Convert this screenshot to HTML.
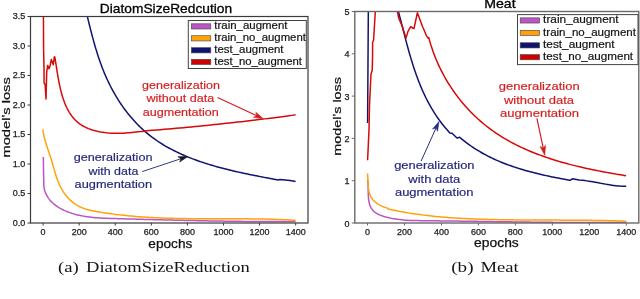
<!DOCTYPE html><html><head><meta charset="utf-8"><style>html,body{margin:0;padding:0;background:#fff;width:640px;height:299px;overflow:hidden}svg{display:block;will-change:transform}</style></head><body>
<svg width="640" height="299" viewBox="0 0 640 299">
<defs><clipPath id="cl"><rect x="30.5" y="16.5" width="277.5" height="206.5"/></clipPath><clipPath id="cr"><rect x="354.8" y="11.5" width="283.6" height="211.5"/></clipPath></defs>
<g clip-path="url(#cl)" fill="none" stroke-width="1.5" stroke-linejoin="round">
<path d="M43.35,157.10 L43.50,170.00 L43.80,183.00 L43.76,182.78 L43.79,185.03 L44.00,187.19 L44.38,189.26 L44.93,191.25 L45.63,193.15 L46.47,194.97 L47.45,196.70 L48.55,198.35 L49.77,199.91 L51.09,201.39 L52.50,202.78 L54.00,204.09 L55.57,205.32 L57.21,206.48 L58.91,207.55 L60.66,208.56 L62.45,209.50 L64.27,210.37 L66.12,211.18 L67.98,211.93 L69.87,212.63 L71.76,213.27 L73.68,213.86 L75.60,214.41 L77.54,214.90 L79.49,215.35 L81.46,215.76 L83.43,216.13 L85.42,216.46 L87.41,216.76 L89.41,217.03 L91.42,217.26 L93.44,217.47 L95.46,217.65 L97.49,217.81 L99.52,217.95 L101.56,218.07 L103.60,218.17 L105.65,218.26 L107.69,218.34 L109.74,218.41 L111.78,218.48 L113.83,218.54 L115.87,218.60 L117.91,218.65 L119.95,218.71 L121.99,218.77 L124.03,218.83 L126.07,218.89 L128.10,218.94 L130.13,219.00 L132.16,219.06 L134.19,219.11 L136.22,219.17 L138.24,219.23 L140.27,219.28 L142.29,219.34 L144.32,219.39 L146.34,219.45 L148.36,219.50 L150.37,219.55 L152.39,219.61 L154.41,219.66 L156.42,219.71 L158.44,219.76 L160.45,219.81 L162.47,219.87 L164.48,219.92 L166.49,219.97 L168.50,220.02 L170.51,220.06 L172.52,220.11 L174.53,220.16 L176.53,220.21 L178.54,220.25 L180.55,220.30 L182.56,220.35 L184.56,220.39 L186.57,220.44 L188.57,220.48 L190.58,220.52 L192.58,220.56 L194.59,220.61 L196.59,220.65 L198.60,220.69 L200.60,220.73 L202.61,220.77 L204.61,220.80 L206.62,220.84 L208.62,220.88 L210.63,220.92 L212.63,220.95 L214.64,220.99 L216.65,221.02 L218.65,221.05 L220.66,221.08 L222.67,221.12 L224.68,221.15 L226.68,221.18 L228.69,221.20 L230.70,221.23 L232.71,221.26 L234.72,221.28 L236.74,221.31 L238.75,221.33 L240.76,221.36 L242.78,221.38 L244.79,221.40 L246.81,221.42 L248.83,221.44 L250.84,221.46 L252.86,221.48 L254.88,221.49 L256.91,221.51 L258.93,221.52 L260.95,221.54 L262.98,221.55 L265.01,221.56 L267.04,221.57 L269.07,221.58 L271.10,221.59 L273.13,221.59 L275.17,221.60 L277.20,221.60 L279.24,221.61 L281.28,221.61 L283.32,221.61 L285.37,221.61 L287.41,221.61 L289.46,221.60 L291.51,221.60 L293.56,221.59 L295.61,221.59" stroke="#bb55c4"/>
<path d="M42.85,129.46 L43.11,131.45 L43.44,133.43 L43.83,135.38 L44.27,137.32 L44.76,139.24 L45.30,141.15 L45.86,143.05 L46.46,144.95 L47.08,146.84 L47.71,148.73 L48.36,150.63 L49.00,152.53 L49.64,154.44 L50.27,156.36 L50.89,158.29 L51.48,160.24 L52.05,162.20 L52.62,164.17 L53.18,166.15 L53.75,168.13 L54.32,170.10 L54.90,172.08 L55.50,174.04 L56.13,175.99 L56.79,177.93 L57.48,179.85 L58.22,181.75 L59.00,183.62 L59.84,185.47 L60.74,187.28 L61.70,189.06 L62.73,190.79 L63.82,192.49 L64.98,194.13 L66.20,195.72 L67.48,197.25 L68.82,198.71 L70.23,200.11 L71.70,201.43 L73.22,202.68 L74.80,203.84 L76.45,204.91 L78.15,205.89 L79.90,206.78 L81.71,207.58 L83.56,208.29 L85.45,208.94 L87.38,209.52 L89.34,210.04 L91.32,210.51 L93.33,210.94 L95.35,211.33 L97.38,211.69 L99.41,212.04 L101.45,212.37 L103.48,212.69 L105.52,213.00 L107.55,213.30 L109.58,213.59 L111.61,213.86 L113.64,214.13 L115.67,214.39 L117.70,214.64 L119.73,214.88 L121.76,215.11 L123.78,215.33 L125.81,215.54 L127.83,215.74 L129.86,215.94 L131.88,216.12 L133.91,216.30 L135.93,216.47 L137.95,216.63 L139.97,216.79 L141.99,216.93 L144.01,217.07 L146.03,217.21 L148.05,217.33 L150.07,217.45 L152.09,217.56 L154.11,217.67 L156.13,217.77 L158.14,217.86 L160.16,217.95 L162.18,218.03 L164.19,218.11 L166.21,218.18 L168.22,218.25 L170.24,218.31 L172.26,218.37 L174.27,218.42 L176.29,218.47 L178.30,218.51 L180.31,218.55 L182.33,218.59 L184.34,218.62 L186.36,218.65 L188.37,218.68 L190.39,218.70 L192.40,218.72 L194.42,218.74 L196.43,218.75 L198.44,218.77 L200.46,218.78 L202.47,218.78 L204.49,218.79 L206.50,218.80 L208.52,218.80 L210.53,218.80 L212.55,218.80 L214.56,218.81 L216.58,218.81 L218.59,218.81 L220.61,218.80 L222.63,218.80 L224.64,218.80 L226.66,218.80 L228.68,218.80 L230.70,218.80 L232.72,218.80 L234.73,218.81 L236.75,218.81 L238.77,218.82 L240.79,218.82 L242.81,218.83 L244.84,218.84 L246.86,218.85 L248.88,218.87 L250.90,218.88 L252.93,218.90 L254.95,218.93 L256.98,218.95 L259.00,218.98 L261.03,219.01 L263.06,219.05 L265.08,219.09 L267.11,219.13 L269.14,219.18 L271.17,219.23 L273.20,219.28 L275.24,219.34 L277.27,219.41 L279.30,219.48 L281.34,219.56 L283.37,219.64 L285.41,219.73 L287.45,219.82 L289.49,219.92 L291.52,220.02 L293.57,220.13 L295.61,220.25" stroke="#ffa20a"/>
<path d="M85.30,8.07 L85.76,9.98 L86.23,11.90 L86.69,13.82 L87.16,15.75 L87.63,17.69 L88.10,19.62 L88.58,21.57 L89.05,23.51 L89.54,25.46 L90.02,27.41 L90.52,29.36 L91.02,31.31 L91.52,33.27 L92.03,35.22 L92.55,37.18 L93.08,39.13 L93.62,41.09 L94.17,43.04 L94.73,45.00 L95.29,46.95 L95.87,48.90 L96.47,50.84 L97.07,52.79 L97.69,54.73 L98.32,56.66 L98.97,58.60 L99.63,60.52 L100.30,62.45 L101.00,64.36 L101.70,66.27 L102.43,68.18 L103.18,70.07 L103.94,71.97 L104.72,73.85 L105.52,75.72 L106.35,77.59 L107.19,79.45 L108.05,81.30 L108.93,83.13 L109.84,84.96 L110.76,86.78 L111.71,88.58 L112.67,90.38 L113.65,92.16 L114.66,93.93 L115.68,95.68 L116.73,97.43 L117.79,99.15 L118.88,100.87 L119.99,102.57 L121.11,104.25 L122.26,105.91 L123.42,107.56 L124.61,109.20 L125.82,110.81 L127.04,112.41 L128.29,113.99 L129.56,115.55 L130.85,117.09 L132.15,118.61 L133.48,120.11 L134.83,121.59 L136.20,123.05 L137.58,124.49 L138.99,125.90 L140.42,127.29 L141.87,128.66 L143.34,130.01 L144.83,131.33 L146.33,132.62 L147.86,133.90 L149.41,135.14 L150.98,136.36 L152.57,137.56 L154.17,138.73 L155.80,139.88 L157.44,141.00 L159.10,142.11 L160.77,143.18 L162.47,144.24 L164.18,145.27 L165.90,146.29 L167.64,147.28 L169.39,148.25 L171.16,149.19 L172.94,150.12 L174.74,151.03 L176.55,151.92 L178.37,152.79 L180.20,153.64 L182.05,154.47 L183.90,155.29 L185.77,156.08 L187.65,156.86 L189.54,157.62 L191.43,158.37 L193.34,159.09 L195.25,159.81 L197.17,160.50 L199.10,161.18 L201.04,161.85 L202.99,162.50 L204.94,163.14 L206.89,163.76 L208.86,164.37 L210.82,164.97 L212.79,165.55 L214.77,166.12 L216.75,166.68 L218.73,167.23 L220.72,167.76 L222.71,168.29 L224.70,168.80 L226.69,169.30 L228.68,169.80 L230.68,170.28 L232.67,170.76 L234.67,171.22 L236.66,171.68 L238.65,172.13 L240.64,172.57 L242.63,173.00 L244.62,173.43 L246.60,173.85 L248.58,174.26 L250.56,174.67 L252.53,175.07 L254.50,175.46 L256.46,175.85 L258.42,176.24 L260.37,176.62 L262.32,177.00 L264.26,177.37 L266.19,177.74 L268.12,178.11 L270.03,178.48 L271.94,178.84 L273.84,179.20 L275.73,179.56 L277.61,179.92 L280.00,179.40 L290.00,180.60 L295.60,181.60" stroke="#101470"/>
<path d="M43.40,10.00 L43.60,50.00 L44.00,68.00 L44.10,83.20 L45.10,84.40 L46.00,99.00 L46.70,72.00 L47.70,65.40 L49.00,68.80 L50.00,66.00 L51.40,59.40 L53.30,64.70 L54.40,56.70 L54.83,57.09 L55.13,58.85 L55.43,60.67 L55.73,62.53 L56.02,64.43 L56.32,66.37 L56.63,68.34 L56.94,70.34 L57.26,72.37 L57.59,74.42 L57.94,76.49 L58.30,78.57 L58.68,80.66 L59.09,82.76 L59.51,84.86 L59.97,86.96 L60.45,89.06 L60.96,91.14 L61.51,93.22 L62.09,95.27 L62.71,97.31 L63.37,99.32 L64.07,101.30 L64.82,103.25 L65.61,105.16 L66.46,107.03 L67.35,108.86 L68.31,110.64 L69.31,112.37 L70.38,114.05 L71.51,115.66 L72.70,117.21 L73.96,118.69 L75.29,120.11 L76.69,121.44 L78.16,122.70 L79.70,123.88 L81.32,124.97 L83.01,125.99 L84.75,126.93 L86.56,127.79 L88.42,128.58 L90.32,129.31 L92.27,129.96 L94.26,130.55 L96.28,131.08 L98.34,131.54 L100.42,131.95 L102.52,132.29 L104.63,132.59 L106.76,132.83 L108.90,133.02 L111.04,133.16 L113.17,133.26 L115.30,133.31 L117.42,133.32 L119.53,133.29 L121.62,133.23 L123.71,133.14 L125.78,133.01 L127.85,132.87 L129.90,132.70 L131.94,132.51 L133.97,132.30 L135.99,132.08 L138.00,131.86 L139.99,131.62 L141.97,131.39 L143.94,131.15 L145.00,130.91 L148.86,130.61 L152.72,130.30 L156.58,129.99 L160.45,129.67 L164.31,129.34 L168.17,129.01 L172.03,128.68 L175.89,128.34 L179.75,127.99 L183.62,127.64 L187.48,127.28 L191.34,126.91 L195.20,126.54 L199.06,126.17 L202.92,125.78 L206.78,125.40 L210.65,125.00 L214.51,124.60 L218.37,124.20 L222.23,123.79 L226.09,123.37 L229.95,122.94 L233.82,122.52 L237.68,122.08 L241.54,121.64 L245.40,121.19 L249.26,120.74 L253.12,120.28 L256.98,119.82 L260.85,119.35 L264.71,118.87 L268.57,118.39 L272.43,117.90 L276.29,117.41 L280.15,116.91 L284.02,116.41 L287.88,115.90 L291.74,115.38 L295.60,114.86" stroke="#d80808"/>
</g>
<rect x="30.5" y="16.5" width="277.5" height="206.5" fill="none" stroke="#3a3a3a" stroke-width="1.2"/>
<line x1="43.10" y1="223" x2="43.10" y2="225.5" stroke="#3a3a3a" stroke-width="1"/>
<text x="40.60" y="234.70" font-size="8.4" fill="#222" stroke="#222" stroke-width="0.25" textLength="5.00" lengthAdjust="spacingAndGlyphs" style="font-family:'Liberation Sans',sans-serif">0</text>
<line x1="79.18" y1="223" x2="79.18" y2="225.5" stroke="#3a3a3a" stroke-width="1"/>
<text x="71.68" y="234.70" font-size="8.4" fill="#222" stroke="#222" stroke-width="0.25" textLength="15.00" lengthAdjust="spacingAndGlyphs" style="font-family:'Liberation Sans',sans-serif">200</text>
<line x1="115.26" y1="223" x2="115.26" y2="225.5" stroke="#3a3a3a" stroke-width="1"/>
<text x="107.76" y="234.70" font-size="8.4" fill="#222" stroke="#222" stroke-width="0.25" textLength="15.00" lengthAdjust="spacingAndGlyphs" style="font-family:'Liberation Sans',sans-serif">400</text>
<line x1="151.34" y1="223" x2="151.34" y2="225.5" stroke="#3a3a3a" stroke-width="1"/>
<text x="143.84" y="234.70" font-size="8.4" fill="#222" stroke="#222" stroke-width="0.25" textLength="15.00" lengthAdjust="spacingAndGlyphs" style="font-family:'Liberation Sans',sans-serif">600</text>
<line x1="187.42" y1="223" x2="187.42" y2="225.5" stroke="#3a3a3a" stroke-width="1"/>
<text x="179.92" y="234.70" font-size="8.4" fill="#222" stroke="#222" stroke-width="0.25" textLength="15.00" lengthAdjust="spacingAndGlyphs" style="font-family:'Liberation Sans',sans-serif">800</text>
<line x1="223.50" y1="223" x2="223.50" y2="225.5" stroke="#3a3a3a" stroke-width="1"/>
<text x="213.50" y="234.70" font-size="8.4" fill="#222" stroke="#222" stroke-width="0.25" textLength="20.00" lengthAdjust="spacingAndGlyphs" style="font-family:'Liberation Sans',sans-serif">1000</text>
<line x1="259.58" y1="223" x2="259.58" y2="225.5" stroke="#3a3a3a" stroke-width="1"/>
<text x="249.58" y="234.70" font-size="8.4" fill="#222" stroke="#222" stroke-width="0.25" textLength="20.00" lengthAdjust="spacingAndGlyphs" style="font-family:'Liberation Sans',sans-serif">1200</text>
<line x1="295.66" y1="223" x2="295.66" y2="225.5" stroke="#3a3a3a" stroke-width="1"/>
<text x="285.66" y="234.70" font-size="8.4" fill="#222" stroke="#222" stroke-width="0.25" textLength="20.00" lengthAdjust="spacingAndGlyphs" style="font-family:'Liberation Sans',sans-serif">1400</text>
<line x1="27.5" y1="223.00" x2="30.5" y2="223.00" stroke="#3a3a3a" stroke-width="1"/>
<text x="12.70" y="225.80" font-size="8.4" fill="#222" stroke="#222" stroke-width="0.25" textLength="12.50" lengthAdjust="spacingAndGlyphs" style="font-family:'Liberation Sans',sans-serif">0.0</text>
<line x1="27.5" y1="193.50" x2="30.5" y2="193.50" stroke="#3a3a3a" stroke-width="1"/>
<text x="12.70" y="196.30" font-size="8.4" fill="#222" stroke="#222" stroke-width="0.25" textLength="12.50" lengthAdjust="spacingAndGlyphs" style="font-family:'Liberation Sans',sans-serif">0.5</text>
<line x1="27.5" y1="164.00" x2="30.5" y2="164.00" stroke="#3a3a3a" stroke-width="1"/>
<text x="12.70" y="166.80" font-size="8.4" fill="#222" stroke="#222" stroke-width="0.25" textLength="12.50" lengthAdjust="spacingAndGlyphs" style="font-family:'Liberation Sans',sans-serif">1.0</text>
<line x1="27.5" y1="134.50" x2="30.5" y2="134.50" stroke="#3a3a3a" stroke-width="1"/>
<text x="12.70" y="137.30" font-size="8.4" fill="#222" stroke="#222" stroke-width="0.25" textLength="12.50" lengthAdjust="spacingAndGlyphs" style="font-family:'Liberation Sans',sans-serif">1.5</text>
<line x1="27.5" y1="105.00" x2="30.5" y2="105.00" stroke="#3a3a3a" stroke-width="1"/>
<text x="12.70" y="107.80" font-size="8.4" fill="#222" stroke="#222" stroke-width="0.25" textLength="12.50" lengthAdjust="spacingAndGlyphs" style="font-family:'Liberation Sans',sans-serif">2.0</text>
<line x1="27.5" y1="75.50" x2="30.5" y2="75.50" stroke="#3a3a3a" stroke-width="1"/>
<text x="12.70" y="78.30" font-size="8.4" fill="#222" stroke="#222" stroke-width="0.25" textLength="12.50" lengthAdjust="spacingAndGlyphs" style="font-family:'Liberation Sans',sans-serif">2.5</text>
<line x1="27.5" y1="46.00" x2="30.5" y2="46.00" stroke="#3a3a3a" stroke-width="1"/>
<text x="12.70" y="48.80" font-size="8.4" fill="#222" stroke="#222" stroke-width="0.25" textLength="12.50" lengthAdjust="spacingAndGlyphs" style="font-family:'Liberation Sans',sans-serif">3.0</text>
<line x1="27.5" y1="16.50" x2="30.5" y2="16.50" stroke="#3a3a3a" stroke-width="1"/>
<text x="12.70" y="19.30" font-size="8.4" fill="#222" stroke="#222" stroke-width="0.25" textLength="12.50" lengthAdjust="spacingAndGlyphs" style="font-family:'Liberation Sans',sans-serif">3.5</text>
<g clip-path="url(#cr)" fill="none" stroke-width="1.5" stroke-linejoin="round">
<path d="M367.57,180.08 L367.83,181.84 L368.01,183.70 L368.10,185.66 L368.16,187.69 L368.18,189.77 L368.21,191.90 L368.26,194.05 L368.36,196.20 L368.52,198.35 L368.78,200.47 L369.16,202.55 L369.68,204.55 L370.36,206.45 L371.24,208.19 L372.32,209.74 L373.59,211.11 L375.03,212.32 L376.62,213.37 L378.32,214.30 L380.13,215.11 L382.00,215.82 L383.93,216.45 L385.87,217.01 L387.83,217.52 L389.80,217.98 L391.77,218.39 L393.76,218.75 L395.75,219.07 L397.75,219.36 L399.75,219.60 L401.76,219.82 L403.78,220.00 L405.80,220.15 L407.82,220.28 L409.85,220.38 L411.88,220.46 L413.91,220.53 L415.94,220.58 L417.98,220.62 L420.02,220.65 L422.06,220.68 L424.09,220.70 L426.13,220.72 L428.17,220.74 L430.20,220.76 L432.24,220.78 L434.27,220.80 L436.30,220.83 L438.33,220.85 L440.36,220.88 L442.39,220.90 L444.42,220.93 L446.45,220.95 L448.48,220.98 L450.50,221.00 L452.53,221.03 L454.56,221.06 L456.58,221.08 L458.60,221.11 L460.63,221.14 L462.65,221.17 L464.67,221.20 L466.69,221.22 L468.71,221.25 L470.74,221.28 L472.76,221.31 L474.78,221.34 L476.79,221.37 L478.81,221.40 L480.83,221.43 L482.85,221.46 L484.87,221.49 L486.88,221.52 L488.90,221.55 L490.92,221.58 L492.93,221.61 L494.95,221.64 L496.96,221.67 L498.98,221.70 L500.99,221.73 L503.01,221.75 L505.02,221.78 L507.04,221.81 L509.05,221.84 L511.07,221.87 L513.08,221.90 L515.10,221.93 L517.11,221.95 L519.12,221.98 L521.14,222.01 L523.15,222.03 L525.16,222.06 L527.18,222.09 L529.19,222.11 L531.21,222.14 L533.22,222.16 L535.23,222.19 L537.25,222.21 L539.26,222.23 L541.28,222.26 L543.29,222.28 L545.31,222.30 L547.32,222.32 L549.34,222.34 L551.35,222.36 L553.37,222.38 L555.39,222.40 L557.40,222.42 L559.42,222.44 L561.44,222.45 L563.46,222.47 L565.47,222.48 L567.49,222.50 L569.51,222.51 L571.53,222.52 L573.55,222.53 L575.57,222.55 L577.59,222.56 L579.61,222.57 L581.64,222.57 L583.66,222.58 L585.68,222.59 L587.71,222.59 L589.73,222.60 L591.76,222.60 L593.78,222.60 L595.81,222.60 L597.84,222.61 L599.86,222.60 L601.89,222.60 L603.92,222.60 L605.95,222.60 L607.98,222.59 L610.02,222.58 L612.05,222.58 L614.08,222.57 L616.12,222.56 L618.15,222.55 L620.19,222.53 L622.23,222.52 L624.27,222.50 L626.31,222.49" stroke="#bb55c4"/>
<path d="M367.50,173.31 L367.71,175.35 L367.84,177.45 L367.92,179.58 L367.99,181.75 L368.07,183.93 L368.21,186.11 L368.43,188.28 L368.77,190.42 L369.26,192.52 L369.92,194.55 L370.76,196.48 L371.82,198.27 L373.10,199.92 L374.57,201.43 L376.20,202.80 L377.96,204.03 L379.83,205.12 L381.78,206.09 L383.79,206.93 L385.81,207.65 L387.83,208.26 L387.69,208.86 L389.67,209.31 L391.65,209.74 L393.64,210.17 L395.62,210.58 L397.61,210.98 L399.60,211.37 L401.59,211.74 L403.59,212.10 L405.58,212.45 L407.58,212.79 L409.58,213.12 L411.58,213.44 L413.58,213.74 L415.58,214.04 L417.58,214.32 L419.59,214.60 L421.59,214.86 L423.60,215.12 L425.61,215.36 L427.62,215.60 L429.63,215.82 L431.64,216.04 L433.65,216.25 L435.67,216.45 L437.68,216.64 L439.70,216.82 L441.72,217.00 L443.73,217.17 L445.75,217.33 L447.77,217.48 L449.79,217.63 L451.81,217.77 L453.84,217.91 L455.86,218.04 L457.88,218.16 L459.91,218.27 L461.93,218.38 L463.95,218.49 L465.98,218.59 L468.01,218.69 L470.03,218.78 L472.06,218.86 L474.09,218.94 L476.12,219.02 L478.14,219.10 L480.17,219.17 L482.20,219.23 L484.23,219.30 L486.26,219.36 L488.29,219.41 L490.32,219.47 L492.35,219.52 L494.38,219.57 L496.41,219.61 L498.44,219.65 L500.47,219.69 L502.50,219.73 L504.54,219.76 L506.57,219.79 L508.60,219.82 L510.63,219.85 L512.66,219.87 L514.70,219.90 L516.73,219.92 L518.76,219.94 L520.79,219.96 L522.83,219.97 L524.86,219.99 L526.89,220.00 L528.92,220.01 L530.96,220.02 L532.99,220.04 L535.02,220.04 L537.05,220.05 L539.09,220.06 L541.12,220.07 L543.15,220.07 L545.18,220.08 L547.22,220.09 L549.25,220.09 L551.28,220.10 L553.31,220.10 L555.34,220.11 L557.38,220.12 L559.41,220.12 L561.44,220.13 L563.47,220.14 L565.50,220.14 L567.53,220.15 L569.56,220.16 L571.59,220.17 L573.62,220.19 L575.65,220.20 L577.68,220.21 L579.71,220.23 L581.74,220.25 L583.77,220.26 L585.80,220.28 L587.82,220.31 L589.85,220.33 L591.88,220.36 L593.91,220.38 L595.93,220.41 L597.96,220.45 L599.98,220.48 L602.01,220.52 L604.03,220.56 L606.06,220.60 L608.08,220.65 L610.10,220.70 L612.13,220.75 L614.15,220.80 L616.17,220.86 L618.19,220.92 L620.21,220.99 L622.23,221.06 L624.25,221.13 L626.27,221.20" stroke="#ffa20a"/>
<path d="M367.60,123.00 L368.40,0.00 L396.00,0.00 L397.51,8.06 L398.03,10.01 L398.54,11.96 L399.06,13.92 L399.57,15.88 L400.07,17.84 L400.58,19.81 L401.09,21.78 L401.59,23.76 L402.10,25.74 L402.60,27.71 L403.11,29.69 L403.62,31.68 L404.13,33.66 L404.64,35.64 L405.16,37.63 L405.68,39.61 L406.21,41.60 L406.73,43.58 L407.27,45.56 L407.81,47.54 L408.36,49.52 L408.91,51.50 L409.48,53.47 L410.05,55.45 L410.63,57.41 L411.21,59.38 L411.81,61.34 L412.42,63.30 L413.04,65.25 L413.67,67.20 L414.31,69.15 L414.97,71.09 L415.64,73.02 L416.32,74.95 L417.01,76.87 L417.72,78.78 L418.45,80.69 L419.19,82.59 L419.95,84.48 L420.72,86.36 L421.51,88.24 L422.32,90.11 L423.15,91.96 L423.99,93.81 L424.86,95.65 L425.75,97.48 L426.65,99.29 L427.58,101.10 L428.53,102.90 L429.50,104.68 L430.50,106.45 L431.51,108.22 L432.56,109.96 L433.62,111.70 L434.71,113.42 L435.83,115.13 L436.97,116.82 L438.14,118.50 L439.33,120.17 L440.56,121.82 L441.81,123.46 L443.09,125.08 L444.40,126.68 L445.74,128.27 L447.11,129.84 L448.51,131.40 L449.94,132.94 L452.00,133.20 L457.00,138.00 L459.63,137.25 L461.20,138.58 L462.79,139.89 L464.39,141.17 L466.01,142.42 L467.65,143.65 L469.30,144.84 L470.97,146.01 L472.65,147.15 L474.35,148.27 L476.06,149.36 L477.79,150.43 L479.53,151.47 L481.28,152.49 L483.04,153.49 L484.82,154.46 L486.61,155.40 L488.41,156.33 L490.22,157.23 L492.05,158.11 L493.88,158.97 L495.72,159.81 L497.58,160.63 L499.44,161.43 L501.32,162.21 L503.20,162.96 L505.09,163.70 L506.99,164.43 L508.90,165.13 L510.81,165.82 L512.74,166.49 L514.66,167.14 L516.60,167.77 L518.54,168.39 L520.49,169.00 L522.44,169.59 L524.40,170.16 L526.37,170.72 L528.33,171.27 L530.30,171.80 L532.28,172.33 L534.26,172.83 L536.24,173.33 L538.23,173.81 L540.21,174.29 L542.20,174.75 L544.19,175.20 L546.19,175.64 L548.18,176.07 L550.17,176.49 L552.17,176.91 L554.16,177.31 L556.16,177.71 L558.15,178.10 L560.14,178.48 L562.13,178.86 L564.12,179.23 L566.11,179.59 L568.09,179.95 L570.07,180.30 L572.40,178.80 L579.10,179.90 L582.70,180.36 L584.77,180.59 L586.84,180.87 L588.90,181.17 L590.97,181.50 L593.04,181.85 L595.11,182.22 L597.18,182.60 L599.25,182.99 L601.32,183.37 L603.39,183.75 L605.46,184.13 L607.53,184.49 L609.60,184.83 L611.67,185.15 L613.74,185.44 L615.81,185.69 L617.89,185.91 L619.96,186.08 L622.04,186.20 L624.11,186.28 L626.19,186.29" stroke="#101470"/>
<path d="M367.60,160.20 L369.00,130.00 L369.50,105.00 L371.00,74.00 L372.20,70.50 L372.60,55.00 L372.60,42.50 L373.60,40.00 L375.30,11.50 L376.00,0.00 L396.00,0.00 L397.40,11.50 L398.70,18.00 L402.70,27.40 L406.00,38.10 L408.00,31.40 L410.70,26.70 L412.70,28.00 L414.00,28.70 L417.40,12.70 L422.50,26.50 L424.30,30.50 L426.30,35.60 L428.30,38.20 L428.75,37.64 L429.30,39.65 L429.87,41.65 L430.46,43.64 L431.08,45.62 L431.72,47.59 L432.38,49.55 L433.07,51.49 L433.77,53.43 L434.51,55.36 L435.26,57.27 L436.03,59.18 L436.83,61.07 L437.65,62.95 L438.49,64.82 L439.36,66.67 L440.24,68.52 L441.15,70.35 L442.08,72.16 L443.02,73.97 L443.99,75.76 L444.98,77.54 L445.99,79.30 L447.02,81.06 L448.07,82.79 L449.15,84.52 L450.24,86.22 L451.35,87.92 L452.48,89.60 L453.63,91.26 L454.79,92.91 L455.98,94.55 L457.19,96.16 L458.41,97.77 L459.66,99.35 L460.92,100.93 L462.20,102.48 L463.50,104.02 L464.81,105.54 L466.15,107.04 L467.50,108.53 L468.87,110.00 L470.25,111.45 L471.66,112.89 L473.08,114.30 L474.51,115.70 L475.96,117.08 L477.43,118.45 L478.92,119.79 L480.42,121.11 L481.94,122.42 L483.47,123.71 L485.02,124.97 L486.59,126.22 L488.17,127.45 L489.76,128.66 L491.37,129.84 L493.00,131.01 L494.64,132.16 L496.29,133.28 L497.96,134.39 L499.64,135.48 L501.33,136.54 L503.04,137.59 L504.76,138.62 L506.49,139.64 L508.23,140.63 L509.99,141.60 L511.76,142.56 L513.54,143.50 L515.33,144.42 L517.13,145.33 L518.94,146.21 L520.76,147.08 L522.59,147.94 L524.43,148.78 L526.28,149.60 L528.14,150.41 L530.01,151.20 L531.89,151.97 L533.77,152.73 L535.66,153.48 L537.56,154.21 L539.47,154.92 L541.38,155.63 L543.30,156.31 L545.23,156.99 L547.16,157.65 L549.10,158.30 L551.04,158.93 L552.99,159.55 L554.94,160.16 L556.90,160.76 L558.86,161.35 L560.83,161.92 L562.80,162.48 L564.77,163.03 L566.75,163.57 L568.73,164.10 L570.71,164.62 L572.70,165.13 L574.68,165.62 L576.67,166.11 L578.66,166.59 L580.65,167.06 L582.64,167.51 L584.63,167.96 L586.62,168.41 L588.62,168.84 L590.61,169.26 L592.60,169.68 L594.59,170.09 L596.57,170.49 L598.56,170.88 L600.55,171.27 L602.53,171.65 L604.51,172.02 L606.49,172.38 L608.46,172.74 L610.43,173.10 L612.40,173.45 L614.36,173.79 L616.32,174.13 L618.28,174.46 L620.23,174.79 L622.17,175.11 L624.11,175.43 L626.05,175.74" stroke="#d80808"/>
</g>
<rect x="354.8" y="11.5" width="283.99999999999994" height="211.5" fill="none" stroke="#6a6a6a" stroke-width="1.4"/>
<line x1="367.50" y1="223" x2="367.50" y2="225.5" stroke="#6a6a6a" stroke-width="1"/>
<text x="365.00" y="234.70" font-size="8.4" fill="#222" stroke="#222" stroke-width="0.25" textLength="5.00" lengthAdjust="spacingAndGlyphs" style="font-family:'Liberation Sans',sans-serif">0</text>
<line x1="404.47" y1="223" x2="404.47" y2="225.5" stroke="#6a6a6a" stroke-width="1"/>
<text x="396.97" y="234.70" font-size="8.4" fill="#222" stroke="#222" stroke-width="0.25" textLength="15.00" lengthAdjust="spacingAndGlyphs" style="font-family:'Liberation Sans',sans-serif">200</text>
<line x1="441.44" y1="223" x2="441.44" y2="225.5" stroke="#6a6a6a" stroke-width="1"/>
<text x="433.94" y="234.70" font-size="8.4" fill="#222" stroke="#222" stroke-width="0.25" textLength="15.00" lengthAdjust="spacingAndGlyphs" style="font-family:'Liberation Sans',sans-serif">400</text>
<line x1="478.41" y1="223" x2="478.41" y2="225.5" stroke="#6a6a6a" stroke-width="1"/>
<text x="470.91" y="234.70" font-size="8.4" fill="#222" stroke="#222" stroke-width="0.25" textLength="15.00" lengthAdjust="spacingAndGlyphs" style="font-family:'Liberation Sans',sans-serif">600</text>
<line x1="515.38" y1="223" x2="515.38" y2="225.5" stroke="#6a6a6a" stroke-width="1"/>
<text x="507.88" y="234.70" font-size="8.4" fill="#222" stroke="#222" stroke-width="0.25" textLength="15.00" lengthAdjust="spacingAndGlyphs" style="font-family:'Liberation Sans',sans-serif">800</text>
<line x1="552.35" y1="223" x2="552.35" y2="225.5" stroke="#6a6a6a" stroke-width="1"/>
<text x="542.35" y="234.70" font-size="8.4" fill="#222" stroke="#222" stroke-width="0.25" textLength="20.00" lengthAdjust="spacingAndGlyphs" style="font-family:'Liberation Sans',sans-serif">1000</text>
<line x1="589.32" y1="223" x2="589.32" y2="225.5" stroke="#6a6a6a" stroke-width="1"/>
<text x="579.32" y="234.70" font-size="8.4" fill="#222" stroke="#222" stroke-width="0.25" textLength="20.00" lengthAdjust="spacingAndGlyphs" style="font-family:'Liberation Sans',sans-serif">1200</text>
<line x1="626.29" y1="223" x2="626.29" y2="225.5" stroke="#6a6a6a" stroke-width="1"/>
<text x="616.29" y="234.70" font-size="8.4" fill="#222" stroke="#222" stroke-width="0.25" textLength="20.00" lengthAdjust="spacingAndGlyphs" style="font-family:'Liberation Sans',sans-serif">1400</text>
<line x1="351.8" y1="223.00" x2="354.8" y2="223.00" stroke="#6a6a6a" stroke-width="1"/>
<text x="344.40" y="226.50" font-size="8.4" fill="#222" stroke="#222" stroke-width="0.25" textLength="5.00" lengthAdjust="spacingAndGlyphs" style="font-family:'Liberation Sans',sans-serif">0</text>
<line x1="351.8" y1="180.70" x2="354.8" y2="180.70" stroke="#6a6a6a" stroke-width="1"/>
<text x="344.40" y="184.20" font-size="8.4" fill="#222" stroke="#222" stroke-width="0.25" textLength="5.00" lengthAdjust="spacingAndGlyphs" style="font-family:'Liberation Sans',sans-serif">1</text>
<line x1="351.8" y1="138.40" x2="354.8" y2="138.40" stroke="#6a6a6a" stroke-width="1"/>
<text x="344.40" y="141.90" font-size="8.4" fill="#222" stroke="#222" stroke-width="0.25" textLength="5.00" lengthAdjust="spacingAndGlyphs" style="font-family:'Liberation Sans',sans-serif">2</text>
<line x1="351.8" y1="96.10" x2="354.8" y2="96.10" stroke="#6a6a6a" stroke-width="1"/>
<text x="344.40" y="99.60" font-size="8.4" fill="#222" stroke="#222" stroke-width="0.25" textLength="5.00" lengthAdjust="spacingAndGlyphs" style="font-family:'Liberation Sans',sans-serif">3</text>
<line x1="351.8" y1="53.80" x2="354.8" y2="53.80" stroke="#6a6a6a" stroke-width="1"/>
<text x="344.40" y="57.30" font-size="8.4" fill="#222" stroke="#222" stroke-width="0.25" textLength="5.00" lengthAdjust="spacingAndGlyphs" style="font-family:'Liberation Sans',sans-serif">4</text>
<line x1="351.8" y1="11.50" x2="354.8" y2="11.50" stroke="#6a6a6a" stroke-width="1"/>
<text x="344.40" y="15.00" font-size="8.4" fill="#222" stroke="#222" stroke-width="0.25" textLength="5.00" lengthAdjust="spacingAndGlyphs" style="font-family:'Liberation Sans',sans-serif">5</text>
<rect x="188.3" y="20.5" width="118" height="48" fill="#fff" stroke="#444" stroke-width="1"/>
<rect x="191.4" y="23.80" width="19.4" height="5.2" fill="#bb55c4" stroke="#444" stroke-width="0.6"/>
<rect x="191.4" y="35.75" width="19.4" height="5.2" fill="#ffa20a" stroke="#444" stroke-width="0.6"/>
<rect x="191.4" y="47.70" width="19.4" height="5.2" fill="#101470" stroke="#444" stroke-width="0.6"/>
<rect x="191.4" y="59.30" width="19.4" height="5.2" fill="#d00000" stroke="#444" stroke-width="0.6"/>
<rect x="517.5" y="14.6" width="120.5" height="50" fill="#fff" stroke="#444" stroke-width="1"/>
<rect x="520.2" y="17.85" width="19.4" height="5.2" fill="#bb55c4" stroke="#444" stroke-width="0.6"/>
<rect x="520.2" y="30.30" width="19.4" height="5.2" fill="#ffa20a" stroke="#444" stroke-width="0.6"/>
<rect x="520.2" y="42.75" width="19.4" height="5.2" fill="#101470" stroke="#444" stroke-width="0.6"/>
<rect x="520.2" y="54.60" width="19.4" height="5.2" fill="#d00000" stroke="#444" stroke-width="0.6"/>
<line x1="217.5" y1="97.5" x2="259.77" y2="117.12" stroke="#d41e1e" stroke-width="1.2"/>
<path d="M263.4,118.8 L255.84,112.25 L256.87,115.77 L253.52,117.25 Z" fill="#d41e1e" stroke="#d41e1e" stroke-width="0.6" stroke-linejoin="miter"/>
<line x1="142.2" y1="171.6" x2="184.10" y2="157.66" stroke="#353985" stroke-width="1.0"/>
<path d="M187.9,156.4 L177.91,156.82 L181.07,158.67 L179.65,162.05 Z" fill="#15152a" stroke="#15152a" stroke-width="0.6" stroke-linejoin="miter"/>
<line x1="536.9" y1="118.4" x2="543.96" y2="151.39" stroke="#d41e1e" stroke-width="1.2"/>
<path d="M544.8,155.3 L545.48,145.32 L543.29,148.26 L540.09,146.48 Z" fill="#d41e1e" stroke="#d41e1e" stroke-width="0.6" stroke-linejoin="miter"/>
<line x1="421.1" y1="161.1" x2="437.36" y2="125.05" stroke="#2a2e80" stroke-width="1.0"/>
<path d="M439,121.4 L432.54,129.03 L436.04,127.96 L437.56,131.30 Z" fill="#2a2e80" stroke="#2a2e80" stroke-width="0.6" stroke-linejoin="miter"/>
<text id="titleL" x="99.86" y="12.65" font-size="13" fill="#000" textLength="132.26" lengthAdjust="spacingAndGlyphs" stroke="#000" stroke-width="0.3" style="font-family:'Liberation Sans',sans-serif">DiatomSizeRedcution</text>
<text id="titleR" x="484.20" y="8.40" font-size="13" fill="#000" textLength="31.46" lengthAdjust="spacingAndGlyphs" stroke="#000" stroke-width="0.3" style="font-family:'Liberation Sans',sans-serif">Meat</text>
<text id="epL" x="148.32" y="247.50" font-size="12.2" fill="#111" textLength="44.02" lengthAdjust="spacingAndGlyphs" stroke="#111" stroke-width="0.25" style="font-family:'Liberation Sans',sans-serif">epochs</text>
<text id="epR" x="474.10" y="246.70" font-size="12.2" fill="#111" textLength="44.68" lengthAdjust="spacingAndGlyphs" stroke="#111" stroke-width="0.25" style="font-family:'Liberation Sans',sans-serif">epochs</text>
<text id="capA1" x="58.08" y="272.00" font-size="15.5" fill="#151515" textLength="20.72" lengthAdjust="spacingAndGlyphs" stroke="#151515" stroke-width="0" style="font-family:'Liberation Serif',serif">(a)</text>
<text id="capA2" x="86.08" y="272.00" font-size="15.5" fill="#151515" textLength="163.72" lengthAdjust="spacingAndGlyphs" stroke="#151515" stroke-width="0" style="font-family:'Liberation Serif',serif">DiatomSizeReduction</text>
<text id="capB1" x="451.26" y="272.10" font-size="15.5" fill="#151515" textLength="22.29" lengthAdjust="spacingAndGlyphs" stroke="#151515" stroke-width="0" style="font-family:'Liberation Serif',serif">(b)</text>
<text id="capB2" x="480.45" y="272.10" font-size="15.5" fill="#151515" textLength="38.29" lengthAdjust="spacingAndGlyphs" stroke="#151515" stroke-width="0" style="font-family:'Liberation Serif',serif">Meat</text>
<text id="ylL" transform="translate(9.56,157.58) rotate(-90)" x="0" y="0" font-size="11.8" fill="#111" textLength="80.38" lengthAdjust="spacingAndGlyphs" stroke="#111" stroke-width="0.22" style="font-family:'Liberation Sans',sans-serif">model&#39;s loss</text>
<text id="ylR" transform="translate(340.66,155.70) rotate(-90)" x="0" y="0" font-size="11.8" fill="#111" textLength="78.72" lengthAdjust="spacingAndGlyphs" stroke="#111" stroke-width="0.22" style="font-family:'Liberation Sans',sans-serif">model&#39;s loss</text>
<text id="lgL1" x="214.32" y="29.30" font-size="10.2" fill="#111" textLength="73.12" lengthAdjust="spacingAndGlyphs" stroke="#111" stroke-width="0.18" style="font-family:'Liberation Sans',sans-serif">train_augment</text>
<text id="lgL2" x="214.32" y="41.25" font-size="10.2" fill="#111" textLength="91.58" lengthAdjust="spacingAndGlyphs" stroke="#111" stroke-width="0.18" style="font-family:'Liberation Sans',sans-serif">train_no_augment</text>
<text id="lgL3" x="214.32" y="53.20" font-size="10.2" fill="#111" textLength="69.24" lengthAdjust="spacingAndGlyphs" stroke="#111" stroke-width="0.18" style="font-family:'Liberation Sans',sans-serif">test_augment</text>
<text id="lgL4" x="214.32" y="64.80" font-size="10.2" fill="#111" textLength="87.58" lengthAdjust="spacingAndGlyphs" stroke="#111" stroke-width="0.18" style="font-family:'Liberation Sans',sans-serif">test_no_augment</text>
<text id="lgR1" x="543.10" y="23.35" font-size="10.2" fill="#111" textLength="75.56" lengthAdjust="spacingAndGlyphs" stroke="#111" stroke-width="0.18" style="font-family:'Liberation Sans',sans-serif">train_augment</text>
<text id="lgR2" x="543.10" y="35.80" font-size="10.2" fill="#111" textLength="92.90" lengthAdjust="spacingAndGlyphs" stroke="#111" stroke-width="0.18" style="font-family:'Liberation Sans',sans-serif">train_no_augment</text>
<text id="lgR3" x="543.10" y="48.25" font-size="10.2" fill="#111" textLength="71.46" lengthAdjust="spacingAndGlyphs" stroke="#111" stroke-width="0.18" style="font-family:'Liberation Sans',sans-serif">test_augment</text>
<text id="lgR4" x="543.10" y="60.10" font-size="10.2" fill="#111" textLength="90.02" lengthAdjust="spacingAndGlyphs" stroke="#111" stroke-width="0.18" style="font-family:'Liberation Sans',sans-serif">test_no_augment</text>
<text id="arL1" x="142.10" y="88.75" font-size="11.2" fill="#d41e1e" textLength="77.82" lengthAdjust="spacingAndGlyphs" stroke="#d41e1e" stroke-width="0.18" style="font-family:'Liberation Sans',sans-serif">generalization</text>
<text id="arL2" x="146.44" y="102.30" font-size="11.2" fill="#d41e1e" textLength="67.90" lengthAdjust="spacingAndGlyphs" stroke="#d41e1e" stroke-width="0.18" style="font-family:'Liberation Sans',sans-serif">without data</text>
<text id="arL3" x="142.76" y="115.60" font-size="11.2" fill="#d41e1e" textLength="76.04" lengthAdjust="spacingAndGlyphs" stroke="#d41e1e" stroke-width="0.18" style="font-family:'Liberation Sans',sans-serif">augmentation</text>
<text id="anL1" x="73.75" y="160.90" font-size="11.2" fill="#24287a" textLength="78.71" lengthAdjust="spacingAndGlyphs" stroke="#24287a" stroke-width="0.18" style="font-family:'Liberation Sans',sans-serif">generalization</text>
<text id="anL2" x="88.56" y="174.50" font-size="11.2" fill="#24287a" textLength="49.78" lengthAdjust="spacingAndGlyphs" stroke="#24287a" stroke-width="0.18" style="font-family:'Liberation Sans',sans-serif">with data</text>
<text id="anL3" x="74.64" y="187.70" font-size="11.2" fill="#24287a" textLength="77.38" lengthAdjust="spacingAndGlyphs" stroke="#24287a" stroke-width="0.18" style="font-family:'Liberation Sans',sans-serif">augmentation</text>
<text id="arR1" x="498.75" y="90.25" font-size="11.2" fill="#d41e1e" textLength="80.95" lengthAdjust="spacingAndGlyphs" stroke="#d41e1e" stroke-width="0.18" style="font-family:'Liberation Sans',sans-serif">generalization</text>
<text id="arR2" x="504.00" y="103.75" font-size="11.2" fill="#d41e1e" textLength="70.00" lengthAdjust="spacingAndGlyphs" stroke="#d41e1e" stroke-width="0.18" style="font-family:'Liberation Sans',sans-serif">without data</text>
<text id="arR3" x="499.98" y="117.40" font-size="11.2" fill="#d41e1e" textLength="79.16" lengthAdjust="spacingAndGlyphs" stroke="#d41e1e" stroke-width="0.18" style="font-family:'Liberation Sans',sans-serif">augmentation</text>
<text id="anR1" x="394.20" y="168.50" font-size="11.2" fill="#24287a" textLength="80.38" lengthAdjust="spacingAndGlyphs" stroke="#24287a" stroke-width="0.18" style="font-family:'Liberation Sans',sans-serif">generalization</text>
<text id="anR2" x="408.34" y="182.50" font-size="11.2" fill="#24287a" textLength="51.88" lengthAdjust="spacingAndGlyphs" stroke="#24287a" stroke-width="0.18" style="font-family:'Liberation Sans',sans-serif">with data</text>
<text id="anR3" x="394.98" y="196.20" font-size="11.2" fill="#24287a" textLength="78.48" lengthAdjust="spacingAndGlyphs" stroke="#24287a" stroke-width="0.18" style="font-family:'Liberation Sans',sans-serif">augmentation</text>
</svg></body></html>
